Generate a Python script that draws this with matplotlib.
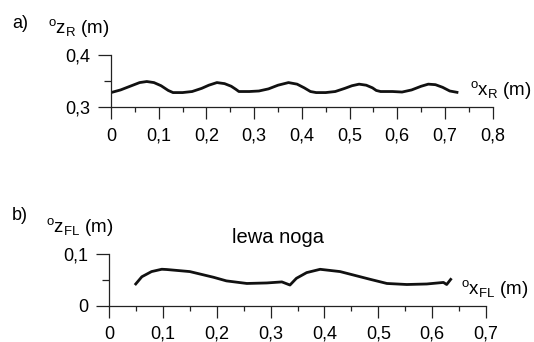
import matplotlib
matplotlib.use("Agg")
import matplotlib.pyplot as plt
from matplotlib.ticker import MultipleLocator, FixedLocator

plt.rcParams['font.family'] = ['Liberation Sans', 'DejaVu Sans']
plt.rcParams['mathtext.fontset'] = 'custom'
plt.rcParams['mathtext.rm'] = 'Liberation Sans'
plt.rcParams['mathtext.it'] = 'Liberation Sans'

# ---- data: panel a) body (R) trajectory ----
xR = [0.0, 0.02, 0.04, 0.06, 0.075, 0.09, 0.105, 0.12, 0.13, 0.15, 0.17, 0.19,
      0.205, 0.222, 0.238, 0.252, 0.262, 0.268, 0.29, 0.31, 0.33, 0.35, 0.372,
      0.39, 0.405, 0.418, 0.43, 0.45, 0.47, 0.49, 0.505, 0.52, 0.535, 0.548,
      0.556, 0.565, 0.59, 0.61, 0.63, 0.65, 0.665, 0.68, 0.695, 0.71, 0.728]
zR = [0.328, 0.333, 0.340, 0.347, 0.349, 0.347, 0.341, 0.332, 0.328, 0.328,
      0.330, 0.336, 0.342, 0.347, 0.345, 0.340, 0.334, 0.330, 0.330, 0.331,
      0.335, 0.342, 0.347, 0.344, 0.337, 0.330, 0.328, 0.328, 0.330, 0.336,
      0.341, 0.344, 0.342, 0.337, 0.332, 0.330, 0.330, 0.329, 0.333, 0.340,
      0.344, 0.343, 0.338, 0.331, 0.328]

# ---- data: panel b) left foot (FL) trajectory ----
xFL = [0.048, 0.061, 0.079, 0.098, 0.107, 0.150, 0.194, 0.218, 0.256, 0.293,
       0.321, 0.336, 0.348, 0.367, 0.392, 0.429, 0.485, 0.516, 0.553, 0.590,
       0.621, 0.627, 0.636]
zFL = [0.040, 0.056, 0.066, 0.0705, 0.070, 0.066, 0.055, 0.048, 0.043, 0.044,
       0.046, 0.040, 0.053, 0.064, 0.0704, 0.066, 0.051, 0.043, 0.041, 0.042,
       0.045, 0.041, 0.053]

xticksR = [0, 0.1, 0.2, 0.3, 0.4, 0.5, 0.6, 0.7, 0.8]
xlabR = ['0', '0,1', '0,2', '0,3', '0,4', '0,5', '0,6', '0,7', '0,8']
yticksR = [0.3, 0.4]
ylabR = ['0,3', '0,4']
xticksFL = [0, 0.1, 0.2, 0.3, 0.4, 0.5, 0.6, 0.7]
xlabFL = ['0', '0,1', '0,2', '0,3', '0,4', '0,5', '0,6', '0,7']
yticksFL = [0, 0.1]
ylabFL = ['0', '0,1']

W, H = 534, 342
fig = plt.figure(figsize=(W / 100, H / 100), dpi=100)

def px(x, y):
    return x / W, 1 - y / H

FS = 13
LFS = 13.5

def style(ax, xt, xl, yt, yl, xlim, ylim):
    ax.set_xlim(*xlim)
    ax.set_ylim(*ylim)
    ax.patch.set_alpha(0)
    for s in ['top', 'right']:
        ax.spines[s].set_visible(False)
    for s in ['left', 'bottom']:
        ax.spines[s].set_linewidth(0.9)
        ax.spines[s].set_color('#222222')
    ax.set_xticks(xt)
    ax.set_xticklabels(xl, fontsize=FS)
    ax.set_yticks(yt)
    ax.set_yticklabels(yl, fontsize=FS)
    ax.xaxis.set_minor_locator(MultipleLocator(0.05))
    ax.yaxis.set_minor_locator(FixedLocator([(yt[0] + yt[1]) / 2]))
    ax.tick_params(axis='x', which='major', length=8.6, width=0.9, pad=6, color='#222222')
    ax.tick_params(axis='x', which='minor', length=3.8, width=0.9, color='#222222')
    ax.tick_params(axis='y', which='major', length=9.2, width=0.9, pad=6, color='#222222')
    ax.tick_params(axis='y', which='minor', length=5, width=0.9, color='#222222')

# panel a
axA = fig.add_axes([111 / W, 1 - 107.3 / H, (492.7 - 111) / W, (107.3 - 54.7) / H])
style(axA, xticksR, xlabR, yticksR, ylabR, (0, 0.8), (0.3, 0.4))
axA.plot(xR, zR, color='#111111', lw=2.0, solid_capstyle='butt', solid_joinstyle='round')

# panel b
axB = fig.add_axes([109 / W, 1 - 305.7 / H, (486 - 109) / W, (305.7 - 254) / H])
style(axB, xticksFL, xlabFL, yticksFL, ylabFL, (0, 0.7), (0, 0.1))
axB.plot(xFL, zFL, color='#111111', lw=2.0, solid_capstyle='butt', solid_joinstyle='round')

# texts
fig.text(*px(12, 27.5), 'a)', fontsize=FS, va='baseline')
fig.text(*px(12, 220), 'b)', fontsize=FS, va='baseline')
fig.text(*px(48, 33), r'$^{\mathrm{o}}\mathrm{z}_{\mathrm{R}}$ (m)', fontsize=LFS, va='baseline')
fig.text(*px(46, 232), r'$^{\mathrm{o}}\mathrm{z}_{\mathrm{FL}}$ (m)', fontsize=LFS, va='baseline')
fig.text(*px(470.5, 95), r'$^{\mathrm{o}}\mathrm{x}_{\mathrm{R}}$ (m)', fontsize=LFS, va='baseline')
fig.text(*px(461.5, 294), r'$^{\mathrm{o}}\mathrm{x}_{\mathrm{FL}}$ (m)', fontsize=LFS, va='baseline')
fig.text(*px(278, 242.7), 'lewa noga', fontsize=14.5, ha='center', va='baseline')

fig.savefig('out.png', dpi=100)
